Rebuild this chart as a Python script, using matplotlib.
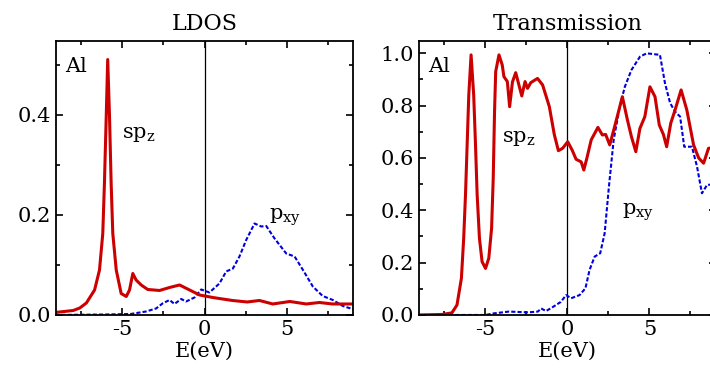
import matplotlib
matplotlib.use('Agg')
import matplotlib.pyplot as plt
from matplotlib.ticker import MultipleLocator

plt.rcParams['font.family'] = ['DejaVu Serif']
plt.rcParams['mathtext.fontset'] = 'dejavuserif'
plt.rcParams['axes.unicode_minus'] = False

# LDOS, sp_z (red) and p_xy (blue)
ldos_sp_e = [-9.1, -8.0, -7.6, -7.2, -6.7, -6.4, -6.2, -6.1, -5.99, -5.9, -5.79, -5.69, -5.59,
             -5.38, -5.08, -4.77, -4.57, -4.37, -4.17, -3.86, -3.46, -2.74, -2.13, -1.52, -0.91,
             -0.3, 0.5, 1.7, 2.6, 3.35, 4.16, 5.2, 6.2, 7.0, 7.8, 9.1]
ldos_sp = [0.005, 0.009, 0.014, 0.024, 0.05, 0.09, 0.163, 0.263, 0.397, 0.511, 0.397, 0.263,
           0.163, 0.09, 0.043, 0.037, 0.05, 0.083, 0.07, 0.06, 0.051, 0.049, 0.055, 0.06, 0.05,
           0.04, 0.035, 0.029, 0.026, 0.029, 0.022, 0.027, 0.022, 0.025, 0.022, 0.022]
ldos_p_e = [-9.1, -6.0, -4.5, -3.56, -2.95, -2.56, -2.13, -1.83, -1.42, -1.12, -0.61, -0.2, 0.3,
            0.91, 1.32, 1.73, 2.13, 2.54, 3.05, 3.46, 3.76, 4.27, 4.98, 5.49, 6.0, 6.6, 7.2, 7.82,
            8.43, 9.1]
ldos_p = [0.0, 0.001, 0.002, 0.007, 0.013, 0.023, 0.03, 0.022, 0.032, 0.027, 0.035, 0.051, 0.045,
          0.063, 0.087, 0.093, 0.117, 0.15, 0.183, 0.177, 0.178, 0.153, 0.123, 0.117, 0.09, 0.057,
          0.038, 0.03, 0.018, 0.011]

# Transmission, sp_z (red) and p_xy (blue)
tr_sp_e = [-9.12, -7.65, -7.04, -6.73, -6.46, -6.32, -6.21, -6.11, -6.01, -5.87, -5.71, -5.6,
           -5.5, -5.36, -5.2, -4.99, -4.79, -4.62, -4.52, -4.44, -4.37, -4.17, -3.97, -3.87,
           -3.66, -3.52, -3.35, -3.15, -2.78, -2.58, -2.43, -2.23, -1.82, -1.51, -1.1, -0.8,
           -0.55, -0.29, 0.02, 0.29, 0.53, 0.84, 1.0, 1.19, 1.45, 1.86, 2.13, 2.33, 2.58, 2.88,
           3.35, 3.66, 3.9, 4.17, 4.42, 4.72, 5.03, 5.34, 5.6, 5.85, 6.05, 6.3, 6.56, 6.93, 7.28,
           7.69, 8.0, 8.3, 8.6, 9.1]
tr_sp = [0.0, 0.002, 0.008, 0.038, 0.14, 0.293, 0.46, 0.65, 0.84, 0.994, 0.84, 0.65, 0.46,
         0.293, 0.204, 0.178, 0.217, 0.331, 0.523, 0.777, 0.93, 0.994, 0.955, 0.911, 0.892,
         0.796, 0.89, 0.926, 0.837, 0.892, 0.866, 0.888, 0.904, 0.879, 0.796, 0.69, 0.628,
         0.637, 0.662, 0.63, 0.595, 0.585, 0.554, 0.6, 0.669, 0.717, 0.688, 0.69, 0.65, 0.72,
         0.834, 0.745, 0.682, 0.624, 0.713, 0.758, 0.872, 0.834, 0.726, 0.69, 0.643, 0.733,
         0.783, 0.86, 0.783, 0.65, 0.6, 0.58, 0.637, 0.64]
tr_p_e = [-9.12, -5.0, -4.5, -3.56, -2.4, -1.8, -1.6, -1.3, -0.9, -0.4, -0.08, 0.23, 0.74, 1.1,
          1.35, 1.66, 2.0, 2.27, 2.53, 2.82, 3.19, 3.5, 3.9, 4.42, 4.83, 5.64, 5.95, 6.26, 6.56,
          6.87, 7.12, 7.59, 7.9, 8.2, 8.51, 9.1]
tr_p = [0.0, 0.0, 0.006, 0.013, 0.01, 0.013, 0.025, 0.015, 0.03, 0.05, 0.076, 0.064, 0.076,
        0.102, 0.172, 0.223, 0.236, 0.312, 0.49, 0.669, 0.796, 0.872, 0.936, 0.987, 1.0, 0.994,
        0.885, 0.81, 0.777, 0.758, 0.643, 0.643, 0.567, 0.465, 0.497, 0.5]

red = '#cc0000'
blue = '#0000dd'
fs = 15

fig = plt.figure(figsize=(7.1, 3.8), dpi=100)
ax1 = fig.add_axes([0.0789, 0.1711, 0.4183, 0.721])
ax2 = fig.add_axes([0.590, 0.1711, 0.4183, 0.721])


def style(ax, ylim, title):
    ax.set_xlim(-9.05, 9.05)
    ax.set_ylim(*ylim)
    ax.axvline(0, color='black', lw=0.9)
    ax.xaxis.set_major_locator(MultipleLocator(5))
    ax.xaxis.set_minor_locator(MultipleLocator(2.5))
    ax.yaxis.set_major_locator(MultipleLocator(0.2))
    ax.yaxis.set_minor_locator(MultipleLocator(0.1))
    ax.tick_params(which='both', direction='in', top=True, right=True, labelsize=fs, width=1.2)
    ax.tick_params(which='major', length=5)
    ax.tick_params(which='minor', length=3)
    ax.yaxis.set_major_formatter(plt.FormatStrFormatter('%.1f'))
    for s in ax.spines.values():
        s.set_linewidth(1.3)
    ax.set_title(title, fontsize=16, pad=8)
    ax.set_xlabel('E(eV)', fontsize=fs, labelpad=2)
    ax.text(0.03, 0.94, 'Al', transform=ax.transAxes, fontsize=fs, va='top', ha='left')


style(ax1, (0, 0.548), 'LDOS')
ax1.plot(ldos_p_e, ldos_p, color=blue, lw=1.5, dashes=(2, 1))
ax1.plot(ldos_sp_e, ldos_sp, color=red, lw=2.2)
ax1.text(-5.0, 0.354, r'sp$_\mathregular{z}$', fontsize=fs, va='baseline')
ax1.text(3.9, 0.19, r'p$_\mathregular{xy}$', fontsize=fs, va='baseline')

style(ax2, (0, 1.047), 'Transmission')
ax2.plot(tr_p_e, tr_p, color=blue, lw=1.5, dashes=(2, 1))
ax2.plot(tr_sp_e, tr_sp, color=red, lw=2.2)
ax2.text(-3.99, 0.662, r'sp$_\mathregular{z}$', fontsize=fs, va='baseline')
ax2.text(3.3, 0.382, r'p$_\mathregular{xy}$', fontsize=fs, va='baseline')

fig.savefig('out.png', dpi=100)
